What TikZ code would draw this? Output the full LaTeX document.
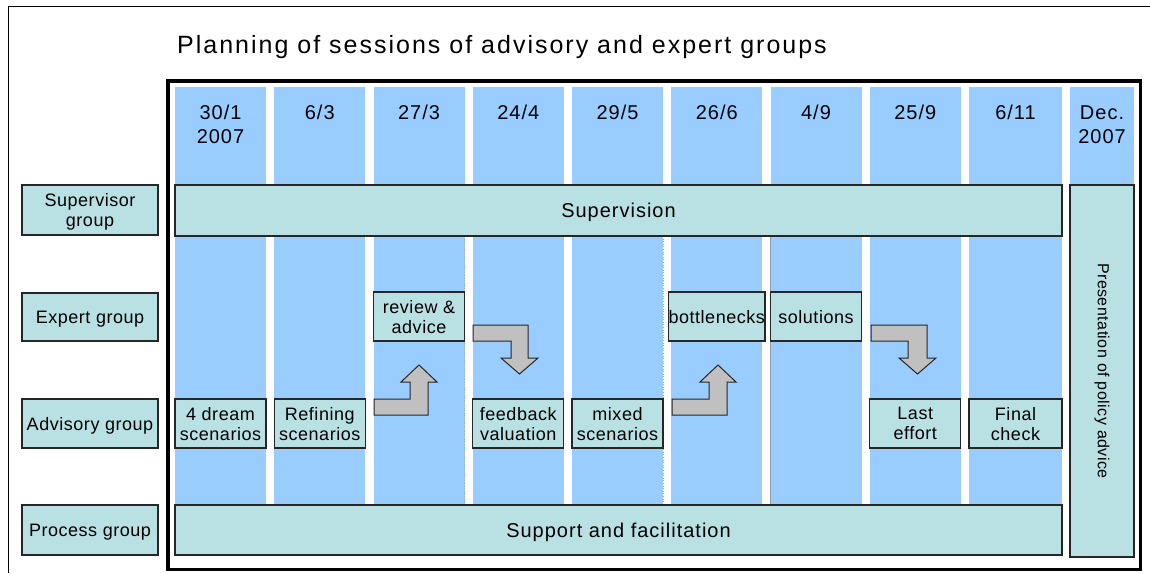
\documentclass[tikz,border=0pt]{standalone}
\usepackage{fontspec}
\setmainfont{Liberation Sans}
\newfontfamily\fTitle[LetterSpace=8]{Liberation Sans}
\newfontfamily\fDate[LetterSpace=5]{Liberation Sans}
\newfontfamily\fBar[LetterSpace=5]{Liberation Sans}
\newfontfamily\fBox[LetterSpace=3]{Liberation Sans}
\definecolor{colblue}{HTML}{99CCFF}
\definecolor{boxteal}{HTML}{B9E0E3}
\definecolor{arrowgray}{HTML}{C0C0C0}
% box from corner (x1,y1) to corner (x2,y2): name, style, x1, y1, x2, y2, text
\newcommand\boxat[7]{\node[#2, minimum width={(#5-#3)*1pt}, minimum height={(#6-#4)*1pt}] (#1) at ({(#3+#5)/2},{(#4+#6)/2}) {#7};}
\begin{document}
\begin{tikzpicture}[x=1pt,y=-1pt,
  column/.style={fill=colblue, draw=none, inner sep=0},
  boxbase/.style={fill=boxteal, draw=black!85, line width=1.1pt, inner sep=0, align=center,
    font=\fBox\fontsize{18}{20}\selectfont},
  tealbox/.style={boxbase, text depth=0pt},
  barbox/.style={tealbox, font=\fBar\fontsize{20}{24}\selectfont},
  datetxt/.style={inner sep=0, align=center, font=\fDate\fontsize{20}{24}\selectfont},
  blockarrow/.style={fill=arrowgray, draw=black!85, line width=1pt, line join=miter},
  seam/.style={draw=gray!70, line width=0.6pt, dotted}
]
\useasboundingbox (0,0) rectangle (1150,573);

% outer page frame (open to the right and bottom)
\draw[line width=1pt] (8,573) -- (8,6) -- (1150,6);

% title
\node[anchor=base west, inner sep=0, font=\fTitle\fontsize{25}{30}\selectfont] (title) at (177,53)
  {Planning of sessions of advisory and expert groups};

% session columns
\boxat{col1}{column}{175}{87}{266}{505}{}
\boxat{col2}{column}{274.25}{87}{365.25}{505}{}
\boxat{col3}{column}{373.5}{87}{464.5}{505}{}
\boxat{col4}{column}{472.75}{87}{563.75}{505}{}
\boxat{col5}{column}{572}{87}{663}{505}{}
\boxat{col6}{column}{671.25}{87}{762.25}{505}{}
\boxat{col7}{column}{770.5}{87}{861.5}{505}{}
\boxat{col8}{column}{869.75}{87}{960.75}{505}{}
\boxat{col9}{column}{969}{87}{1062}{505}{}
\boxat{col10}{column}{1070}{87}{1134}{185}{}

% faint cell seams
\draw[seam] (464.5,236) -- (464.5,505);
\draw[seam] (663,236) -- (663,505);
\draw[draw=gray!80, line width=0.6pt] (770.5,236) -- (770.5,505);

% dates (base anchor sits on the last line)
\node[datetxt, anchor=base] (d1) at (220.5,143) {30/1\\2007};
\node[datetxt, anchor=base] (d2) at (319.75,119) {6/3};
\node[datetxt, anchor=base] (d3) at (419,119) {27/3};
\node[datetxt, anchor=base] (d4) at (518.25,119) {24/4};
\node[datetxt, anchor=base] (d5) at (617.5,119) {29/5};
\node[datetxt, anchor=base] (d6) at (716.75,119) {26/6};
\node[datetxt, anchor=base] (d7) at (816,119) {4/9};
\node[datetxt, anchor=base] (d8) at (915.25,119) {25/9};
\node[datetxt, anchor=base] (d9) at (1015.5,119) {6/11};
\node[datetxt, anchor=base] (d10) at (1102,143) {Dec.\\2007};

% row labels
\boxat{supg}{tealbox}{22}{185}{158}{235}{Supervisor\\group}
\boxat{expg}{tealbox}{22}{293}{158}{341}{Expert group}
\boxat{advg}{tealbox}{22}{399}{158}{448}{Advisory group}
\boxat{prog}{tealbox}{22}{505}{158}{555}{Process group}

% spanning bars
\boxat{supervision}{barbox}{175}{185}{1062}{236}{Supervision}
\boxat{support}{barbox}{175}{505}{1062}{555}{Support and facilitation}
\boxat{present}{boxbase}{1070}{185}{1134}{557}{\fontsize{16}{18}\selectfont\rotatebox{-90}{Presentation of policy advice}}

% expert group activities
\boxat{review}{tealbox}{373.5}{292}{464.5}{341}{review \&\\advice}
\boxat{bottle}{tealbox}{671.25}{292}{762.25}{341}{bottlenecks}
\boxat{solut}{tealbox}{770.5}{292}{861.5}{341}{solutions}

% advisory group activities
\boxat{dream}{tealbox}{175}{399}{266}{448}{4 dream\\scenarios}
\boxat{refine}{tealbox}{274.25}{399}{365.25}{448}{Refining\\scenarios}
\boxat{feedback}{tealbox}{472.75}{399}{563.75}{448}{feedback\\valuation}
\boxat{mixed}{tealbox}{572}{399}{663}{448}{mixed\\scenarios}
\boxat{last}{tealbox}{869.75}{399}{960.75}{448}{Last\\effort}
\boxat{final}{tealbox}{969}{399}{1062}{448}{Final\\check}

% bent block arrows between the groups
\draw[blockarrow] (374,399) -- (410,399) -- (410,382) -- (401,382) -- (419,365)
  -- (437,382) -- (428,382) -- (428,415) -- (374,415) -- cycle;
\draw[blockarrow] (473,325) -- (528,325) -- (528,358) -- (538,358) -- (519.5,374)
  -- (501,358) -- (511,358) -- (511,341) -- (473,341) -- cycle;
\draw[blockarrow] (672,399) -- (709,399) -- (709,382) -- (700,382) -- (718,365)
  -- (736,382) -- (727,382) -- (727,415) -- (672,415) -- cycle;
\draw[blockarrow] (871,325) -- (927,325) -- (927,358) -- (936,358) -- (917.5,374)
  -- (899,358) -- (908,358) -- (908,341) -- (871,341) -- cycle;

% frame around the schedule
\draw[line width=3.5pt] (168,81) rectangle (1140.5,569.5);
\end{tikzpicture}
\end{document}
